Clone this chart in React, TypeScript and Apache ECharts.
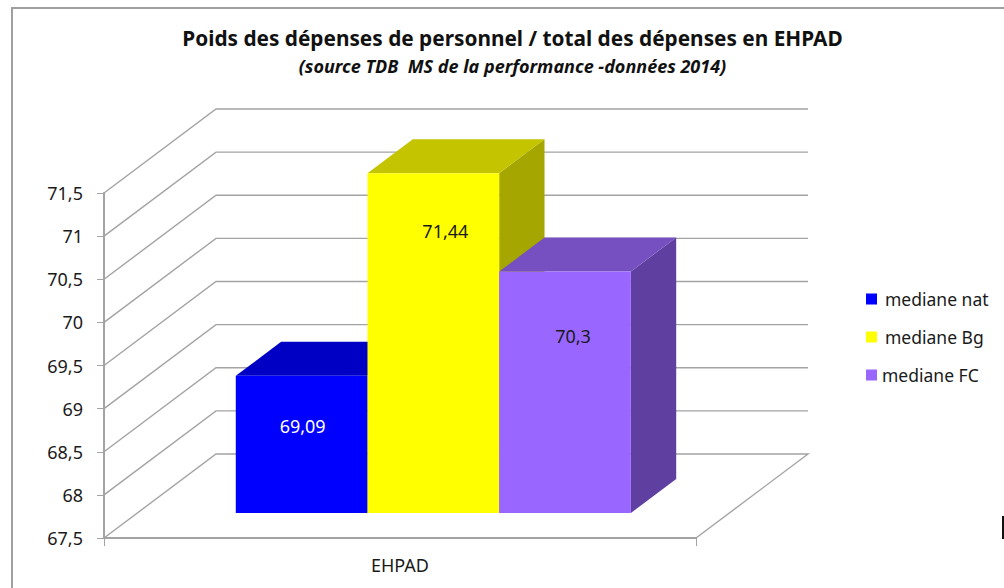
import React, { useEffect, useRef } from "react";
import * as echarts from "echarts";

const categories = ["EHPAD"];
const seriesNames = ["mediane nat", "mediane Bg", "mediane FC"];
const medianeNat = [69.09];
const medianeBg = [71.44];
const medianeFC = [70.3];
const yTicks = [67.5, 68, 68.5, 69, 69.5, 70, 70.5, 71, 71.5];

const faceColors = [
  { front: "#0000ff", top: "#0000c4", side: "#00009e" },
  { front: "#ffff00", top: "#c4c400", side: "#a6a600" },
  { front: "#9966ff", top: "#7650c0", side: "#5f40a0" },
];
const labelColors = ["#ffffff", "#1a1a1a", "#1a1a1a"];
const labelShift = [[1, -18], [12, -112], [8, -56]];
const legendTextPad = [3, 3, 0];

const DEPTH_X = 112;
const DEPTH_Y = 84;
const BAR_START = 25 / 84;
const BAR_DEPTH = 34 / 84;
const BAR_WIDTH = 131.7;
const FONT = "'Noto Sans', sans-serif";

const fmt = (v: number) => String(v).replace(".", ",");

const wallSeries = {
  type: "custom",
  name: "walls",
  silent: true,
  z: 1,
  data: yTicks.map((t) => [0, t]),
  renderItem: (_p: any, api: any) => {
    const [x, y] = api.coord([api.value(0), api.value(1)]);
    const left = x - 296;
    const right = x + 296;
    const lineStyle = { stroke: "#a3a3a3", lineWidth: 1.4, fill: "none" };
    const points =
      api.value(1) === yTicks[0]
        ? [[left, y], [left + DEPTH_X, y - DEPTH_Y], [right + DEPTH_X, y - DEPTH_Y], [right, y]]
        : [[left, y], [left + DEPTH_X, y - DEPTH_Y], [right + DEPTH_X, y - DEPTH_Y]];
    return { type: "polyline", shape: { points }, style: lineStyle };
  },
};

const barSeries = (idx: number, values: number[]) => ({
  type: "custom",
  name: seriesNames[idx],
  z: 2 + idx,
  itemStyle: { color: faceColors[idx].front },
  data: values.map((v, i) => [i, v]),
  renderItem: (_p: any, api: any) => {
    const value = api.value(1);
    const top = api.coord([api.value(0), value]);
    const base = api.coord([api.value(0), yTicks[0]]);
    const ox = DEPTH_X * BAR_START;
    const oy = DEPTH_Y * BAR_START;
    const dx = DEPTH_X * BAR_DEPTH;
    const dy = DEPTH_Y * BAR_DEPTH;
    const x0 = top[0] + ox + (idx - 1.5) * BAR_WIDTH;
    const x1 = x0 + BAR_WIDTH;
    const yTop = top[1] - oy;
    const yBase = base[1] - oy;
    const c = faceColors[idx];
    return {
      type: "group",
      children: [
        {
          type: "polygon",
          shape: { points: [[x1, yTop], [x1 + dx, yTop - dy], [x1 + dx, yBase - dy], [x1, yBase]] },
          style: { fill: c.side },
        },
        {
          type: "polygon",
          shape: { points: [[x0, yTop], [x0 + dx, yTop - dy], [x1 + dx, yTop - dy], [x1, yTop]] },
          style: { fill: c.top },
        },
        { type: "rect", shape: { x: x0, y: yTop, width: BAR_WIDTH, height: yBase - yTop }, style: { fill: c.front } },
        {
          type: "text",
          x: (x0 + x1) / 2 + labelShift[idx][0],
          y: (yTop + yBase) / 2 + labelShift[idx][1],
          style: {
            text: fmt(value),
            fill: labelColors[idx],
            font: `18px ${FONT}`,
            align: "center",
            verticalAlign: "middle",
          },
        },
      ],
    };
  },
});

export default function App() {
  const ref = useRef<HTMLDivElement>(null);
  useEffect(() => {
    document.body.style.margin = "0";
    const chart = echarts.init(ref.current!, undefined, { renderer: "svg" });
    chart.setOption({
      animation: false,
      backgroundColor: "#ffffff",
      title: {
        text: "Poids des dépenses de personnel / total des dépenses en EHPAD",
        subtext: "(source TDB  MS de la performance -données 2014)",
        left: 507.5,
        top: 22,
        textAlign: "center",
        itemGap: 9,
        textStyle: { fontFamily: FONT, fontSize: 20.8, fontWeight: "bold", color: "#111111" },
        subtextStyle: { fontFamily: FONT, fontSize: 18, fontWeight: "bold", fontStyle: "italic", color: "#111111" },
      },
      legend: {
        orient: "vertical",
        left: 861,
        top: 285,
        data: seriesNames.map((name, i) => ({
          name,
          textStyle: { padding: [0, 0, 0, legendTextPad[i]] },
        })),
        itemWidth: 11,
        itemHeight: 11,
        itemGap: 20,
        icon: "rect",
        selectedMode: false,
        textStyle: { fontFamily: FONT, fontSize: 17.5, color: "#1a1a1a" },
      },
      grid: { left: 104, top: 193, width: 592, height: 345 },
      xAxis: {
        type: "category",
        data: categories,
        axisLine: { lineStyle: { color: "#a3a3a3", width: 2 } },
        axisTick: { show: true, length: 8, lineStyle: { color: "#a3a3a3", width: 1 } },
        axisLabel: { margin: 18, fontFamily: FONT, fontSize: 18, color: "#1a1a1a" },
      },
      yAxis: {
        type: "value",
        min: 67.5,
        max: 71.5,
        interval: 0.5,
        axisLine: { show: true, lineStyle: { color: "#a3a3a3", width: 2 } },
        axisTick: { show: true, length: 7, lineStyle: { color: "#a3a3a3", width: 1 } },
        axisLabel: { margin: 21, formatter: fmt, fontFamily: FONT, fontSize: 18, color: "#1a1a1a" },
        splitLine: { show: false },
      },
      graphic: [
        {
          type: "polyline",
          silent: true,
          shape: { points: [[12, 588], [12, 8], [1004, 8]] },
          style: { stroke: "#a0a0a0", lineWidth: 2, fill: "none" },
        },
        {
          type: "rect",
          silent: true,
          shape: { x: 1002, y: 516, width: 2, height: 23 },
          style: { fill: "#111111" },
        },
      ],
      series: [wallSeries, barSeries(0, medianeNat), barSeries(1, medianeBg), barSeries(2, medianeFC)],
    });
    return () => chart.dispose();
  }, []);
  return <div ref={ref} style={{ width: 1004, height: 588 }} />;
}
